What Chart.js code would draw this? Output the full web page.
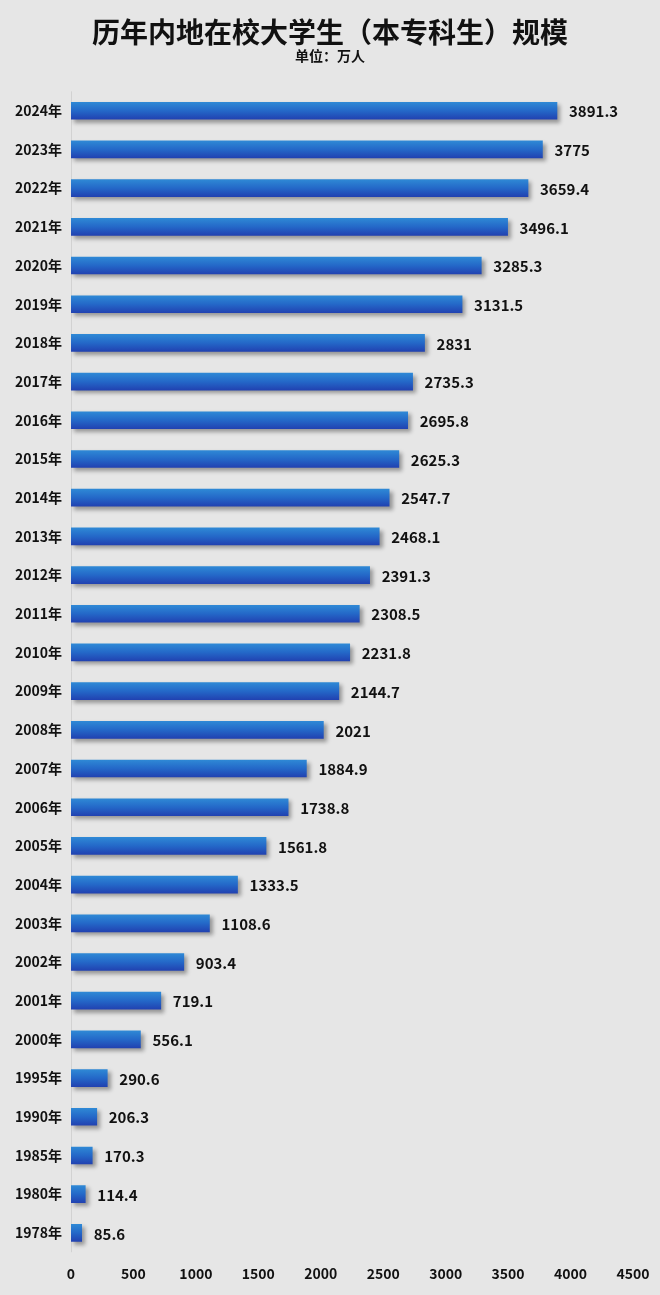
<!DOCTYPE html>
<html>
<head>
<meta charset="utf-8">
<script src="https://cdn.jsdelivr.net/npm/chart.js@4"></script>
<style>
  html, body { margin: 0; padding: 0; background: #e6e6e6; }
  #wrap { width: 660px; height: 1295px; position: relative; }
</style>
</head>
<body>
<div id="wrap"><canvas id="students"></canvas></div>
<script>
var years = ['2024年','2023年','2022年','2021年','2020年','2019年','2018年','2017年','2016年','2015年',
  '2014年','2013年','2012年','2011年','2010年','2009年','2008年','2007年','2006年','2005年',
  '2004年','2003年','2002年','2001年','2000年','1995年','1990年','1985年','1980年','1978年'];
var students = [3891.3, 3775, 3659.4, 3496.1, 3285.3, 3131.5, 2831, 2735.3, 2695.8, 2625.3,
  2547.7, 2468.1, 2391.3, 2308.5, 2231.8, 2144.7, 2021, 1884.9, 1738.8, 1561.8,
  1333.5, 1108.6, 903.4, 719.1, 556.1, 290.6, 206.3, 170.3, 114.4, 85.6];
var xTicks = [0, 500, 1000, 1500, 2000, 2500, 3000, 3500, 4000, 4500];

var titleText = '历年内地在校大学生（本专科生）规模';
var subtitleText = '单位：万人';
var fontFamily = '"Liberation Sans Narrow", "Noto Sans CJK SC", sans-serif';

function barGradient(context) {
  var chart = context.chart;
  var yScale = chart.scales.y;
  if (!yScale || context.dataIndex === undefined) return '#2a62c8';
  var y = yScale.getPixelForValue(context.dataIndex);
  if (!isFinite(y)) return '#2a62c8';
  var g = chart.ctx.createLinearGradient(0, y - 9, 0, y + 9);
  g.addColorStop(0, '#2f8ad6');
  g.addColorStop(0.5, '#2468c8');
  g.addColorStop(1, '#2140b0');
  return g;
}

var barShadow = {
  id: 'barShadow',
  beforeDatasetDraw: function(chart) {
    var ctx = chart.ctx;
    ctx.save();
    ctx.shadowColor = 'rgba(0,0,0,0.35)';
    ctx.shadowBlur = 4;
    ctx.shadowOffsetX = 3;
    ctx.shadowOffsetY = 3;
  },
  afterDatasetDraw: function(chart) {
    chart.ctx.restore();
  }
};

var valueLabels = {
  id: 'valueLabels',
  afterDatasetsDraw: function(chart) {
    var ctx = chart.ctx;
    var meta = chart.getDatasetMeta(0);
    ctx.save();
    ctx.font = 'bold 15px ' + fontFamily;
    ctx.fillStyle = '#111';
    ctx.textAlign = 'left';
    ctx.textBaseline = 'middle';
    meta.data.forEach(function(bar, i) {
      ctx.fillText(String(students[i]), bar.x + 12, bar.y + 1);
    });
    ctx.restore();
  }
};

// title and subtitle centred on the whole canvas (chart.js centres on the padded box)
var centredTitles = {
  id: 'centredTitles',
  afterDraw: function(chart) {
    var ctx = chart.ctx;
    var cx = chart.width / 2;
    ctx.save();
    ctx.fillStyle = '#111';
    ctx.textAlign = 'center';
    ctx.textBaseline = 'middle';
    ctx.font = 'bold 28px ' + fontFamily;
    ctx.fillText(titleText, cx, 32);
    ctx.font = 'bold 14px ' + fontFamily;
    ctx.fillText(subtitleText, cx, 56);
    ctx.restore();
  }
};

var axisLine = {
  id: 'axisLine',
  beforeDatasetsDraw: function(chart) {
    var ctx = chart.ctx;
    var a = chart.chartArea;
    ctx.save();
    ctx.strokeStyle = '#d2d2d2';
    ctx.lineWidth = 1;
    ctx.beginPath();
    ctx.moveTo(a.left + 0.5, a.top);
    ctx.lineTo(a.left + 0.5, a.bottom);
    ctx.stroke();
    ctx.restore();
  }
};

var ctx = document.getElementById('students').getContext('2d');
var myChart = new Chart(ctx, {
  type: 'bar',
  data: {
    labels: years,
    datasets: [{
      data: students,
      backgroundColor: barGradient,
      barThickness: 17,
      borderWidth: 0
    }]
  },
  options: {
    indexAxis: 'y',
    responsive: true,
    maintainAspectRatio: false,
    animation: false,
    layout: { padding: { left: 0, right: 27, top: 0, bottom: 0 } },
    plugins: {
      legend: { display: false },
      tooltip: { enabled: false },
      title: {
        display: true,
        text: titleText,
        color: 'rgba(0,0,0,0)',
        font: { family: fontFamily, size: 28, weight: 'bold' },
        padding: { top: 15, bottom: 0 }
      },
      subtitle: {
        display: true,
        text: subtitleText,
        color: 'rgba(0,0,0,0)',
        font: { family: fontFamily, size: 14, weight: 'bold' },
        padding: { top: 0, bottom: 26 }
      }
    },
    scales: {
      x: {
        min: 0,
        max: 4500,
        afterBuildTicks: function(scale) {
          scale.ticks = xTicks.map(function(v) { return { value: v }; });
        },
        afterFit: function(scale) {
          scale.paddingLeft = 0;
          scale.paddingRight = 0;
        },
        grid: { display: false, drawTicks: false },
        border: { display: false },
        ticks: {
          padding: 13,
          color: '#111',
          maxRotation: 0,
          autoSkip: false,
          callback: function(v) { return String(v); },
          font: { family: fontFamily, size: 14, weight: 'bold' }
        }
      },
      y: {
        afterFit: function(scale) { scale.width = 71; },
        grid: { display: false, drawTicks: false },
        border: { display: false },
        ticks: {
          padding: 9,
          color: '#111',
          autoSkip: false,
          font: { family: fontFamily, size: 14, weight: 'bold' }
        }
      }
    }
  },
  plugins: [axisLine, barShadow, valueLabels, centredTitles]
});
</script>
</body>
</html>
